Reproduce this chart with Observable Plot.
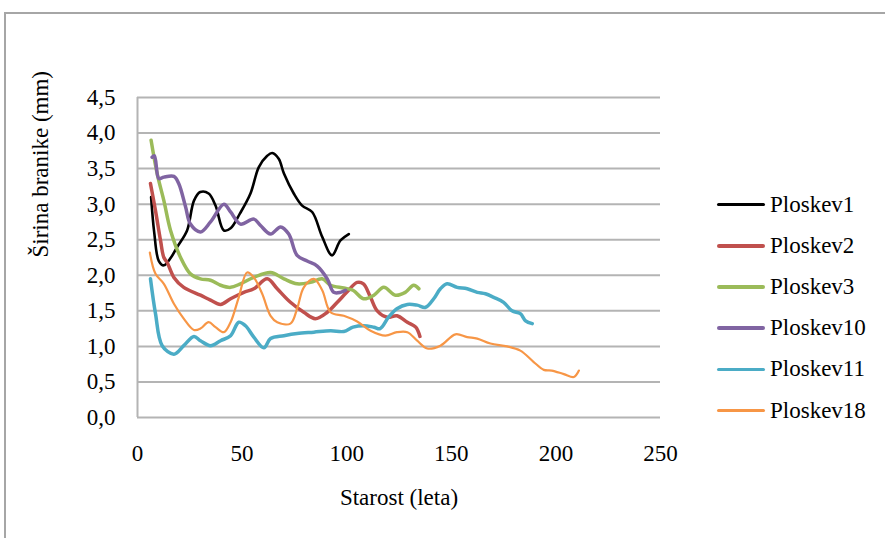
<!DOCTYPE html>
<html>
<head>
<meta charset="utf-8">
<script src="https://cdn.jsdelivr.net/npm/d3@7"></script>
<script src="https://cdn.jsdelivr.net/npm/@observablehq/plot@0.6"></script>
<style>
  html, body { margin: 0; padding: 0; background: #fff; }
  #wrap { position: relative; width: 885px; height: 538px; overflow: hidden; font-family: "Liberation Serif", "Times New Roman", serif; }
  #frame { position: absolute; left: 4px; top: 12px; right: -10px; bottom: -10px; border-top: 2px solid #a6a6a6; border-left: 2px solid #a6a6a6; }
  #chart { position: absolute; left: 0; top: 0; }
  #legend { position: absolute; left: 717px; top: 184px; }
  .row { display: flex; align-items: center; height: 41.2px; font-size: 23px; color: #000; }
  .sw { width: 48px; margin-right: 5px; border-radius: 2px; }
</style>
</head>
<body>
<div id="wrap"><div id="frame"></div><div id="chart"></div><div id="legend"></div></div>
<script>
const seriesNames = ["Ploskev1", "Ploskev2", "Ploskev3", "Ploskev10", "Ploskev11", "Ploskev18"];
const seriesColors = ["#000000", "#c0504d", "#9bbb59", "#8064a2", "#4bacc6", "#f79646"];
const seriesWidths = [2.6, 3.5, 3.5, 3.5, 3.5, 2.2];

const xTicks = [0, 50, 100, 150, 200, 250];
const yTicks = [0, 0.5, 1, 1.5, 2, 2.5, 3, 3.5, 4, 4.5];

const p1Age = [6.5, 8, 10.2, 12.6, 16, 19, 23.7, 27, 30, 34, 37.3, 41.3, 44.5, 49, 54, 58, 62, 64.4, 67.5, 70, 74.7, 78.7, 83.5, 88.3, 93, 97, 101];
const p1Val = [3.10, 2.6, 2.2, 2.14, 2.25, 2.40, 2.63, 3.05, 3.17, 3.15, 2.98, 2.63, 2.66, 2.87, 3.15, 3.52, 3.68, 3.72, 3.64, 3.43, 3.15, 2.98, 2.89, 2.54, 2.28, 2.49, 2.58];

const p2Age = [6.2, 8.6, 11, 12.6, 14.2, 17.4, 22.1, 30.1, 34.9, 39.7, 44.5, 50.8, 55.6, 62, 66.8, 73.1, 79.5, 85, 90.7, 95.5, 100, 105, 108, 111.4, 114.6, 119.4, 124, 129, 133, 135];
const p2Val = [3.29, 2.91, 2.49, 2.25, 2.18, 1.97, 1.83, 1.72, 1.65, 1.59, 1.67, 1.76, 1.81, 1.95, 1.81, 1.62, 1.48, 1.39, 1.48, 1.62, 1.76, 1.90, 1.88, 1.69, 1.50, 1.41, 1.43, 1.34, 1.27, 1.14];

const p3Age = [6.5, 9.4, 12.6, 15.8, 20.6, 25.3, 30.1, 34.9, 39.7, 44.5, 49.2, 55.6, 63.6, 70, 76.3, 82.7, 88.3, 92.3, 98.6, 103, 108, 113, 117.7, 123.3, 128, 132, 134.5];
const p3Val = [3.90, 3.43, 3.05, 2.63, 2.25, 2.02, 1.95, 1.93, 1.86, 1.83, 1.88, 1.97, 2.04, 1.95, 1.88, 1.90, 1.95, 1.86, 1.82, 1.79, 1.67, 1.72, 1.83, 1.72, 1.76, 1.86, 1.81];

const p10Age = [7, 8.1, 10.2, 12.6, 17.4, 19.7, 23, 25.3, 30.1, 34.9, 41.3, 44.5, 49.2, 55.6, 58.8, 63.6, 68.4, 72.3, 76.3, 81.1, 85.9, 90.7, 93.8, 97, 99.4];
const p10Val = [3.66, 3.68, 3.36, 3.38, 3.39, 3.29, 2.96, 2.72, 2.61, 2.75, 3.0, 2.89, 2.72, 2.79, 2.70, 2.58, 2.68, 2.58, 2.28, 2.20, 2.13, 1.95, 1.76, 1.76, 1.79];

const p11Age = [6.2, 8.6, 11.8, 17.4, 22.1, 27, 30.1, 34.9, 39.7, 44.5, 48.4, 51.6, 55.6, 60.4, 63.6, 70, 76.3, 84.3, 92.3, 98.6, 103, 108, 113, 116, 120, 124, 129, 133.7, 137.7, 141.6, 144.8, 148, 152.8, 157.6, 162.4, 166.3, 170.3, 175, 179, 183, 185.5, 188.7];
const p11Val = [1.95, 1.46, 1.01, 0.89, 1.01, 1.14, 1.08, 1.01, 1.08, 1.15, 1.34, 1.29, 1.13, 0.98, 1.11, 1.15, 1.18, 1.20, 1.22, 1.21, 1.27, 1.29, 1.27, 1.25, 1.41, 1.53, 1.59, 1.58, 1.55, 1.67, 1.81, 1.88, 1.83, 1.81, 1.76, 1.74, 1.69, 1.62, 1.50, 1.46, 1.36, 1.32];

const p18Age = [5.9, 8.6, 12.6, 17.4, 22.1, 27, 30.1, 34, 37.3, 41.3, 44.5, 48.4, 52.4, 55.6, 59.6, 63.6, 66.8, 73.1, 76.3, 79.5, 84.3, 88.3, 92.3, 98.6, 105, 111.4, 118.5, 124, 129, 133.7, 138.5, 144.8, 152, 157.6, 162.4, 168.7, 176.7, 183, 189.4, 194.2, 198, 203.8, 208.6, 211];
const p18Val = [2.32, 2.02, 1.88, 1.60, 1.39, 1.23, 1.25, 1.34, 1.27, 1.20, 1.34, 1.69, 2.04, 1.97, 1.74, 1.43, 1.34, 1.32, 1.53, 1.83, 1.95, 1.79, 1.48, 1.43, 1.35, 1.22, 1.15, 1.20, 1.20, 1.08, 0.97, 1.01, 1.17, 1.13, 1.11, 1.04, 1.00, 0.94, 0.78, 0.67, 0.66, 0.61, 0.57, 0.66];

const ages = [p1Age, p2Age, p3Age, p10Age, p11Age, p18Age];
const vals = [p1Val, p2Val, p3Val, p10Val, p11Val, p18Val];

const comma = d => d.toFixed(1).replace(".", ",");
const gridColor = "#b4b4b4";

const lineMarks = seriesNames.map((name, i) => {
  const rows = ages[i].map((a, j) => ({age: a, val: vals[i][j], series: name}));
  return Plot.line(rows, {x: "age", y: "val", curve: "catmull-rom", stroke: seriesColors[i], strokeWidth: seriesWidths[i], strokeLinejoin: "round", strokeLinecap: "round"});
});

const plot = Plot.plot({
  width: 885,
  height: 538,
  marginLeft: 137,
  marginRight: 225,
  marginTop: 97,
  marginBottom: 121,
  style: {fontFamily: "'Liberation Serif', 'Times New Roman', serif", fontSize: "23px", color: "#000", background: "transparent", overflow: "visible"},
  x: {domain: [0, 250]},
  y: {domain: [0, 4.5]},
  marks: [
    Plot.gridY(yTicks, {stroke: gridColor, strokeOpacity: 1, strokeWidth: 2}),
    Plot.ruleX([0], {stroke: gridColor, strokeWidth: 2}),
    Plot.axisY({ticks: yTicks, tickFormat: comma, tickSize: 0, tickPadding: 22, label: null}),
    Plot.axisX({ticks: xTicks, tickFormat: d => String(d), tickSize: 0, tickPadding: 27, label: null}),
    Plot.text(["Starost (leta)"], {frameAnchor: "bottom", dy: 80, lineAnchor: "middle", fontSize: 23}),
    Plot.text(["Širina branike (mm)"], {frameAnchor: "left", dx: -97, rotate: -90, lineAnchor: "middle", fontSize: 23}),
    ...lineMarks
  ]
});
document.getElementById("chart").appendChild(plot);

const legend = document.getElementById("legend");
seriesNames.forEach((name, i) => {
  const row = document.createElement("div");
  row.className = "row";
  const sw = document.createElement("div");
  sw.className = "sw";
  sw.style.height = seriesWidths[i] + "px";
  sw.style.background = seriesColors[i];
  const t = document.createElement("span");
  t.textContent = name;
  row.appendChild(sw);
  row.appendChild(t);
  legend.appendChild(row);
});
</script>
</body>
</html>
